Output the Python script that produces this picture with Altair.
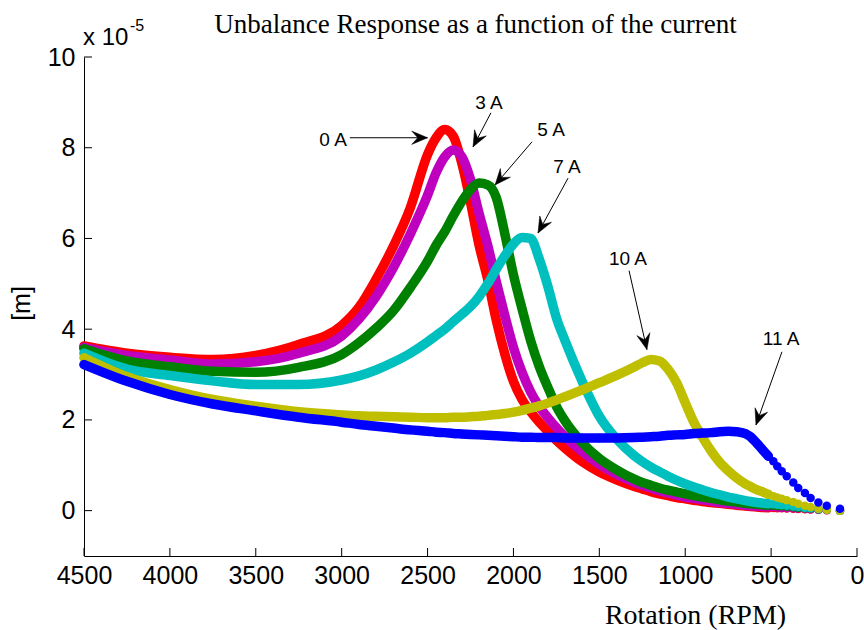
import math

import altair as alt
import pandas as pd

# Rotation speed samples (RPM), shared by every current setting
rpm = [4500, 4250, 4000, 3750, 3500, 3250, 3000,
       2900, 2800, 2700, 2600, 2500,
       2450, 2400, 2350, 2300, 2250, 2200, 2150, 2100, 2050, 2000,
       1950, 1900, 1850, 1800, 1750, 1700,
       1600, 1500, 1400, 1300,
       1250, 1200, 1150, 1100, 1050, 1000,
       950, 900, 850, 800, 750, 700, 650,
       620, 582, 547, 516, 487, 464, 438, 409,
       371, 342, 303, 270, 225, 176, 99]

# Unbalance response amplitude, in units of 1e-5 m
resp_0A = [3.63, 3.47, 3.38, 3.33, 3.42, 3.66, 4.08,
           4.48, 5.10, 5.82, 6.68, 7.85,
           8.22, 8.40, 8.25, 7.65, 6.80, 5.85, 5.10, 4.20, 3.45, 2.85,
           2.45, 2.18, 1.95, 1.75, 1.55, 1.38,
           1.08, 0.85, 0.68, 0.54,
           0.48, 0.42, 0.37, 0.33, 0.29, 0.26,
           0.23, 0.20, 0.18, 0.16, 0.14, 0.12, 0.10,
           0.09, 0.08, 0.07, 0.065, 0.06, 0.055, 0.05, 0.045,
           0.04, 0.035, 0.03, 0.025, 0.02, 0.01, 0.0]
resp_3A = [3.60, 3.42, 3.32, 3.23, 3.28, 3.47, 3.85,
           4.22, 4.72, 5.35, 6.10, 6.95,
           7.45, 7.80, 7.95, 7.80, 7.30, 6.55, 5.85, 5.05, 4.30, 3.60,
           3.05, 2.62, 2.30, 2.05, 1.83, 1.63,
           1.30, 1.02, 0.80, 0.63,
           0.56, 0.50, 0.44, 0.39, 0.34, 0.30,
           0.27, 0.24, 0.21, 0.18, 0.16, 0.14, 0.12,
           0.11, 0.10, 0.09, 0.085, 0.08, 0.07, 0.065, 0.06,
           0.05, 0.045, 0.04, 0.03, 0.02, 0.015, 0.0]
resp_5A = [3.57, 3.30, 3.17, 3.07, 3.05, 3.16, 3.44,
           3.70, 4.02, 4.40, 4.92, 5.50,
           5.85, 6.15, 6.50, 6.82, 7.08, 7.22, 7.18, 6.90, 6.10, 5.20,
           4.45, 3.75, 3.18, 2.72, 2.30, 1.98,
           1.50, 1.15, 0.90, 0.70,
           0.62, 0.56, 0.50, 0.45, 0.41, 0.37,
           0.33, 0.30, 0.27, 0.24, 0.21, 0.19, 0.16,
           0.15, 0.14, 0.13, 0.12, 0.11, 0.10, 0.095, 0.085,
           0.075, 0.065, 0.055, 0.045, 0.03, 0.02, 0.0]
resp_7A = [3.47, 3.12, 2.98, 2.86, 2.78, 2.78, 2.88,
           2.97, 3.10, 3.27, 3.47, 3.72,
           3.86, 4.00, 4.17, 4.33, 4.50, 4.72, 5.00, 5.32, 5.62, 5.88,
           6.02, 6.00, 5.55, 4.95, 4.25, 3.75,
           2.85, 2.08, 1.58, 1.22,
           1.08, 0.96, 0.86, 0.76, 0.67, 0.59,
           0.52, 0.46, 0.40, 0.35, 0.30, 0.26, 0.22,
           0.20, 0.18, 0.165, 0.15, 0.14, 0.13, 0.12, 0.11,
           0.09, 0.08, 0.06, 0.05, 0.03, 0.02, 0.0]
resp_10A = [3.37, 2.95, 2.67, 2.45, 2.30, 2.18, 2.11,
            2.09, 2.08, 2.07, 2.06, 2.05,
            2.05, 2.05, 2.06, 2.06, 2.07, 2.08, 2.10, 2.12, 2.14, 2.17,
            2.21, 2.26, 2.31, 2.37, 2.44, 2.51,
            2.66, 2.82, 2.98, 3.16,
            3.26, 3.33, 3.30, 3.12, 2.82, 2.38,
            1.95, 1.62, 1.32, 1.07, 0.88, 0.72, 0.59,
            0.53, 0.46, 0.41, 0.36, 0.32, 0.29, 0.26, 0.23,
            0.19, 0.15, 0.11, 0.08, 0.04, 0.02, 0.0]
resp_11A = [3.22, 2.85, 2.56, 2.35, 2.20, 2.06, 1.95,
            1.90, 1.86, 1.82, 1.78, 1.75,
            1.73, 1.72, 1.70, 1.69, 1.68, 1.67, 1.66, 1.65, 1.64, 1.63,
            1.62, 1.62, 1.61, 1.61, 1.61, 1.60,
            1.60, 1.60, 1.60, 1.61,
            1.62, 1.63, 1.64, 1.66, 1.67, 1.68,
            1.70, 1.71, 1.72, 1.74, 1.75, 1.74, 1.70,
            1.63, 1.48, 1.33, 1.20, 1.09, 0.98, 0.87, 0.76,
            0.62, 0.50, 0.39, 0.28, 0.18, 0.11, 0.04]

series_names = ["0 A", "3 A", "5 A", "7 A", "10 A", "11 A"]
series_values = [resp_0A, resp_3A, resp_5A, resp_7A, resp_10A, resp_11A]
series_colors = ["#ff0000", "#bf00bf", "#008000", "#00bfbf", "#bfbf00", "#0000ff"]

# Below this speed the samples are sparse and are drawn as separate dots only
DOTS_ONLY_BELOW = 516

# Arrow annotations naming each curve
ann_labels = ["0 A", "3 A", "5 A", "7 A", "10 A", "11 A"]
ann_text_rpm = [3050, 2142, 1781, 1688, 1333, 442]
ann_text_val = [8.17, 8.98, 8.39, 7.58, 5.55, 3.78]
ann_tail_rpm = [2952, 2131, 1892, 1682, 1327, 437]
ann_tail_val = [8.22, 8.77, 8.13, 7.33, 5.29, 3.50]
ann_tip_rpm = [2500, 2235, 2107, 1857, 1223, 588]
ann_tip_val = [8.22, 8.02, 7.18, 6.12, 3.55, 1.89]

TITLE = "Unbalance Response as a function of the current"

x_ticks = [0, 500, 1000, 1500, 2000, 2500, 3000, 3500, 4000, 4500]
y_ticks = [0, 2, 4, 6, 8, 10]

X_DOMAIN = [0, 4500]
Y_DOMAIN = [-1, 10]
W, H = 773, 499

SANS = "Liberation Sans"
SERIF = "Liberation Serif"

x_scale = alt.Scale(domain=X_DOMAIN, reverse=True, nice=False, zero=False)
y_scale = alt.Scale(domain=Y_DOMAIN, nice=False, zero=False)

x_axis = alt.Axis(
    values=x_ticks, format="d", ticks=False, grid=False, domainColor="black", domainWidth=1,
    labelFont=SANS, labelFontSize=25, labelColor="black", labelPadding=7,
    labelFlush=False, labelOverlap=False,
    title="Rotation (RPM)", titleFont=SERIF, titleFontSize=28,
    titleFontWeight="normal", titleColor="black", titleAlign="center",
    titleBaseline="alphabetic", titleX=611, titleY=67,
)
y_axis = alt.Axis(
    values=y_ticks, format="d", ticks=False, grid=False, domainColor="black", domainWidth=1,
    labelFont=SANS, labelFontSize=25, labelColor="black", labelPadding=9,
    labelFlush=False, labelOverlap=False,
    title="[m]", titleFont=SANS, titleFontSize=25, titleFontWeight="normal",
    titleColor="black", titleAngle=270, titleAlign="center",
    titleBaseline="middle", titleX=-63, titleY=246,
)


def xq(field):
    return alt.X(field, type="quantitative", scale=x_scale, axis=x_axis)


def yq(field):
    return alt.Y(field, type="quantitative", scale=y_scale, axis=y_axis)


layers = []
for name, vals, color in zip(series_names, series_values, series_colors):
    df = pd.DataFrame({"rpm": rpm, "disp": vals, "current": name})
    base = alt.Chart(df).encode(x=xq("rpm"), y=yq("disp"))
    layers.append(
        base.transform_filter(alt.datum.rpm >= DOTS_ONLY_BELOW).mark_line(
            color=color, strokeWidth=9.5, interpolate="monotone",
            strokeCap="round", strokeJoin="round")
    )
    layers.append(base.mark_circle(color=color, size=72, opacity=1))

# Inward-pointing tick marks on both axes
xtick_layer = alt.Chart(pd.DataFrame({"rpm": x_ticks, "base": Y_DOMAIN[0]})).mark_rule(
    color="black", strokeWidth=1, y2Offset=-8
).encode(x=xq("rpm"), y=yq("base"), y2="base:Q")
ytick_layer = alt.Chart(pd.DataFrame({"disp": y_ticks, "base": X_DOMAIN[1]})).mark_rule(
    color="black", strokeWidth=1, x2Offset=8
).encode(y=yq("disp"), x=xq("base"), x2="base:Q")

# Axis multiplier shown above the y axis
mult_df = pd.DataFrame({"t": ["x 10"], "rpm": [X_DOMAIN[1]], "disp": [Y_DOMAIN[1]]})
mult = alt.Chart(mult_df).mark_text(
    align="left", baseline="alphabetic", dx=-1, dy=-12, font=SANS, fontSize=24, color="black"
).encode(x=xq("rpm"), y=yq("disp"), text="t:N")
exp_df = pd.DataFrame({"t": ["-5"], "rpm": [X_DOMAIN[1]], "disp": [Y_DOMAIN[1]]})
mult_exp = alt.Chart(exp_df).mark_text(
    align="left", baseline="alphabetic", dx=46, dy=-26, font=SANS, fontSize=16, color="black"
).encode(x=xq("rpm"), y=yq("disp"), text="t:N")

# Chart title, centred over the plot area
title_df = pd.DataFrame({"t": [TITLE], "rpm": [sum(X_DOMAIN) / 2], "disp": [Y_DOMAIN[1]]})
title_layer = alt.Chart(title_df).mark_text(
    align="center", baseline="alphabetic", dx=5, dy=-24, font=SERIF, fontSize=27, color="black"
).encode(x=xq("rpm"), y=yq("disp"), text="t:N")

# Arrow annotations
px_per_rpm = W / (X_DOMAIN[1] - X_DOMAIN[0])
px_per_unit = H / (Y_DOMAIN[1] - Y_DOMAIN[0])
angles = []
for tr, tv, pr, pv in zip(ann_tail_rpm, ann_tail_val, ann_tip_rpm, ann_tip_val):
    dx = -(pr - tr) * px_per_rpm
    dy = -(pv - tv) * px_per_unit
    angles.append(math.degrees(math.atan2(dx, -dy)) % 360)

ann = pd.DataFrame({
    "label": ann_labels,
    "text_rpm": ann_text_rpm, "text_val": ann_text_val,
    "tail_rpm": ann_tail_rpm, "tail_val": ann_tail_val,
    "tip_rpm": ann_tip_rpm, "tip_val": ann_tip_val,
    "angle": angles,
})
arrow_shaft = alt.Chart(ann).mark_rule(color="black", strokeWidth=1).encode(
    x=xq("tail_rpm"), y=yq("tail_val"), x2="tip_rpm:Q", y2="tip_val:Q",
)
ARROW_HEAD = "M0,0 L-0.42,1 L0,0.62 L0.42,1 Z"
arrow_head = alt.Chart(ann).mark_point(
    shape=ARROW_HEAD, filled=True, fill="black", stroke="black", strokeWidth=0.5,
    size=1000, opacity=1
).encode(
    x=xq("tip_rpm"), y=yq("tip_val"),
    angle=alt.Angle("angle:Q", scale=None),
)
arrow_text = alt.Chart(ann).mark_text(
    font=SANS, fontSize=19, align="center", baseline="middle", color="black"
).encode(x=xq("text_rpm"), y=yq("text_val"), text="label:N")

chart = alt.layer(
    *layers, xtick_layer, ytick_layer, mult, mult_exp, title_layer,
    arrow_shaft, arrow_head, arrow_text
).properties(
    width=W, height=H,
    autosize=alt.AutoSizeParams(type="none"),
    padding={"left": 84, "top": 57, "right": 7, "bottom": 74},
    background="white",
).configure_view(stroke=None)

chart.save("out.html", embed_options={"renderer": "svg", "actions": False})
